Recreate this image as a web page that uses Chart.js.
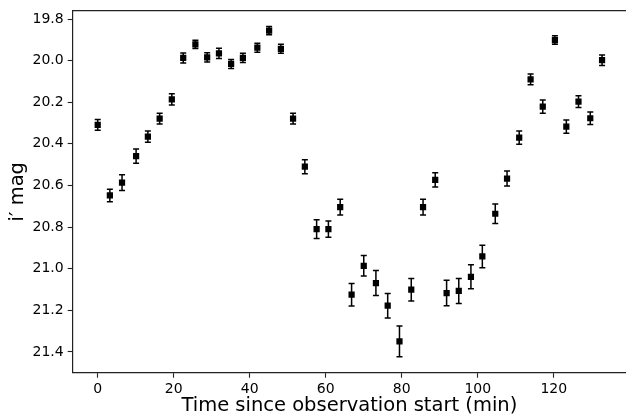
<!DOCTYPE html>
<html>
<head>
<meta charset="utf-8">
<script src="https://cdn.jsdelivr.net/npm/chart.js@4/dist/chart.umd.min.js"></script>
<style>
  html, body { margin: 0; padding: 0; background: #fff; overflow: hidden; }
  #wrap { width: 626px; height: 418px; position: relative; }
</style>
</head>
<body>
<div id="wrap"><canvas id="c" width="626" height="418"></canvas></div>
<script>
// Data
const timeMin = [0, 3.2, 6.4, 10.1, 13.2, 16.3, 19.5, 22.5, 25.7, 28.8, 31.9, 35.1, 38.2, 42.0, 45.1, 48.2, 51.4, 54.5, 57.6, 60.7, 63.8, 66.8, 70.0, 73.2, 76.3, 79.4, 82.5, 85.6, 88.8, 91.8, 95.0, 98.2, 101.2, 104.6, 107.7, 110.9, 113.9, 117.1, 120.3, 123.3, 126.5, 129.6, 132.7];
const magI = [20.309, 20.648, 20.586, 20.459, 20.365, 20.279, 20.186, 19.987, 19.922, 19.984, 19.965, 20.016, 19.987, 19.938, 19.856, 19.943, 20.279, 20.51, 20.81, 20.81, 20.704, 21.125, 20.986, 21.069, 21.178, 21.349, 21.101, 20.704, 20.573, 21.117, 21.107, 21.039, 20.941, 20.736, 20.567, 20.37, 20.09, 20.221, 19.901, 20.317, 20.197, 20.277, 19.998];
const magErr = [0.026, 0.03, 0.038, 0.034, 0.027, 0.026, 0.027, 0.024, 0.02, 0.022, 0.025, 0.022, 0.022, 0.022, 0.02, 0.022, 0.026, 0.034, 0.045, 0.039, 0.038, 0.054, 0.049, 0.06, 0.059, 0.074, 0.054, 0.038, 0.034, 0.061, 0.06, 0.058, 0.054, 0.047, 0.036, 0.032, 0.026, 0.032, 0.02, 0.032, 0.028, 0.03, 0.025];
const xTicks = [0, 20, 40, 60, 80, 100, 120];
const yTicks = [19.8, 20.0, 20.2, 20.4, 20.6, 20.8, 21.0, 21.2, 21.4];

const points = timeMin.map((t, i) => ({ x: t, y: magI[i], e: magErr[i] }));
const AXIS_COLOR = '#222';
const FONT = 'DejaVu Sans';

const errorBars = {
  id: 'errorBars',
  beforeDatasetsDraw(chart) {
    const ctx = chart.ctx;
    const xs = chart.scales.x, ys = chart.scales.y;
    ctx.save();
    ctx.strokeStyle = '#000';
    ctx.lineWidth = 1.5;
    const cap = 3;
    points.forEach(p => {
      const px = xs.getPixelForValue(p.x);
      const y1 = ys.getPixelForValue(p.y - p.e);
      const y2 = ys.getPixelForValue(p.y + p.e);
      ctx.beginPath();
      ctx.moveTo(px, y1); ctx.lineTo(px, y2);
      ctx.moveTo(px - cap, y1); ctx.lineTo(px + cap, y1);
      ctx.moveTo(px - cap, y2); ctx.lineTo(px + cap, y2);
      ctx.stroke();
    });
    ctx.restore();
  }
};

const topFrame = {
  id: 'topFrame',
  afterDraw(chart) {
    const a = chart.chartArea, ctx = chart.ctx;
    ctx.save();
    ctx.strokeStyle = AXIS_COLOR;
    ctx.lineWidth = 1.2;
    ctx.beginPath();
    ctx.moveTo(a.left, a.top); ctx.lineTo(chart.width, a.top);
    ctx.stroke();
    ctx.restore();
  }
};

new Chart(document.getElementById('c'), {
  type: 'scatter',
  data: {
    datasets: [{
      data: points,
      pointStyle: 'rect',
      pointRadius: 4.4,
      pointHoverRadius: 4.4,
      backgroundColor: '#000',
      borderColor: '#000',
      borderWidth: 0
    }]
  },
  options: {
    responsive: false,
    animation: false,
    devicePixelRatio: 1,
    layout: { autoPadding: false, padding: { top: 10.7, left: 0, right: 0, bottom: 0 } },
    plugins: { legend: { display: false }, tooltip: { enabled: false } },
    scales: {
      x: {
        type: 'linear',
        min: -6.58,
        max: 139.0,
        afterBuildTicks: ax => { ax.ticks = xTicks.map(v => ({ value: v })); },
        afterFit: ax => { ax.height = 45.3; ax.paddingRight = 0; ax.paddingLeft = 0; },
        grid: { drawOnChartArea: false, drawTicks: true, tickLength: 5, color: AXIS_COLOR, tickWidth: 1.1 },
        border: { display: true, color: AXIS_COLOR, width: 1.2 },
        ticks: { color: '#000', font: { family: FONT, size: 14 }, padding: 3, maxRotation: 0, callback: v => String(v) },
        title: { display: true, text: 'Time since observation start (min)', color: '#000', font: { family: FONT, size: 19.5 }, padding: { top: 0, bottom: 0 } }
      },
      y: {
        type: 'linear',
        reverse: true,
        min: 19.76,
        max: 21.50,
        afterBuildTicks: ax => { ax.ticks = yTicks.map(v => ({ value: v })); },
        afterFit: ax => { ax.width = 72.7; ax.paddingTop = 0; ax.paddingBottom = 0; },
        grid: { drawOnChartArea: false, drawTicks: true, tickLength: 5, color: AXIS_COLOR, tickWidth: 1.1 },
        border: { display: true, color: AXIS_COLOR, width: 1.2 },
        ticks: { color: '#000', font: { family: FONT, size: 14 }, padding: 4, callback: v => Number(v).toFixed(1) },
        title: { display: true, text: 'i′ mag', color: '#000', font: { family: FONT, size: 19.5 }, padding: { top: 6, bottom: 0 } }
      }
    }
  },
  plugins: [errorBars, topFrame]
});
</script>
</body>
</html>
